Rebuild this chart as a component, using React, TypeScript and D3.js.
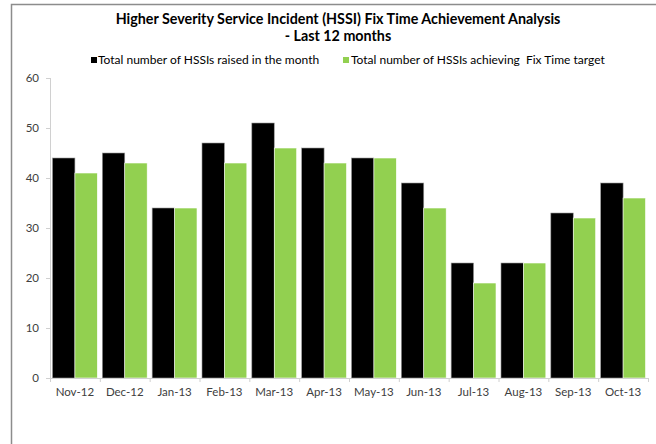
import React from "react";
import * as d3 from "d3";

const months = ["Nov-12", "Dec-12", "Jan-13", "Feb-13", "Mar-13", "Apr-13", "May-13", "Jun-13", "Jul-13", "Aug-13", "Sep-13", "Oct-13"];
const raised = [44, 45, 34, 47, 51, 46, 44, 39, 23, 23, 33, 39];
const achieved = [41, 43, 34, 43, 46, 43, 44, 34, 19, 23, 32, 36];
const yTicks = [0, 10, 20, 30, 40, 50, 60];
const seriesNames = ["Total number of HSSIs raised in the month", "Total number of HSSIs achieving  Fix Time target"];
const seriesColors = ["#000000", "#92D050"];

const W = 656;
const H = 444;
const plot = { left: 50, right: 648, top: 78, bottom: 378 };
const font = "Lato, 'Liberation Sans', sans-serif";

export default function App() {
  const x = d3.scaleBand<string>().domain(months).range([plot.left, plot.right]).paddingInner(0.1).paddingOuter(0.05);
  const step = x.step();
  const inner = d3.scaleBand<number>().domain([0, 1]).range([0, x.bandwidth()]);
  const y = d3.scaleLinear().domain([0, 60]).range([plot.bottom, plot.top]);
  const series = [raised, achieved];
  const boundaries = d3.range(months.length + 1).map((i) => plot.left + i * step);
  const legendX = [{ box: 91, text: 98 }, { box: 343, text: 351 }];

  return (
    <svg width={W} height={H} style={{ position: "absolute", left: 0, top: 0 }} fontFamily={font}>
      <rect x={0} y={0} width={W} height={H} fill="#ffffff" />
      {/* outer frame */}
      <path d={`M11.5,${H} V4.5 H${W}`} fill="none" stroke="#8c8c8c" strokeWidth={1.5} />

      {/* title */}
      <text x={338} y={24} textAnchor="middle" fontSize={14.3} fontWeight="bold" fill="#000">
        Higher Severity Service Incident (HSSI) Fix Time Achievement Analysis
      </text>
      <text x={338} y={41} textAnchor="middle" fontSize={14.3} fontWeight="bold" fill="#000">
        - Last 12 months
      </text>

      {/* legend */}
      <g fontSize={12} fill="#000">
        {seriesNames.map((name, k) => (
          <g key={name}>
            <rect x={legendX[k].box} y={57} width={6} height={6} fill={seriesColors[k]} />
            <text x={legendX[k].text} y={63.5} style={{ whiteSpace: "pre" }}>{name}</text>
          </g>
        ))}
      </g>

      {/* y axis */}
      <line x1={plot.left + 0.5} x2={plot.left + 0.5} y1={plot.top} y2={plot.bottom} stroke="#d0d0d0" />
      {yTicks.map((t) => (
        <g key={t}>
          <line x1={plot.left - 4} x2={plot.left} y1={y(t) + 0.5} y2={y(t) + 0.5} stroke="#d0d0d0" />
          <text x={plot.left - 11} y={y(t) + 4} textAnchor="end" fontSize={11.5} fill="#404040">
            {t}
          </text>
        </g>
      ))}

      {/* bars */}
      {months.map((m, i) => (
        <g key={m}>
          {series.map((s, k) => (
            <rect
              key={k}
              x={(x(m) ?? 0) + (inner(k) ?? 0)}
              y={y(s[i])}
              width={inner.bandwidth()}
              height={plot.bottom - y(s[i])}
              fill={seriesColors[k]}
              stroke={k === 0 ? "#9a9a9a" : "#ffffff"}
              strokeWidth={0.6}
            />
          ))}
        </g>
      ))}

      {/* x axis */}
      <line x1={plot.left} x2={plot.right} y1={plot.bottom + 0.5} y2={plot.bottom + 0.5} stroke="#d0d0d0" />
      {boundaries.map((b, i) => (
        <line key={i} x1={b + 0.5} x2={b + 0.5} y1={plot.bottom} y2={plot.bottom + 4} stroke="#d0d0d0" />
      ))}
      {months.map((m) => (
        <text key={m} x={(x(m) ?? 0) + x.bandwidth() / 2} y={396} textAnchor="middle" fontSize={11.5} fill="#404040">
          {m}
        </text>
      ))}
    </svg>
  );
}
